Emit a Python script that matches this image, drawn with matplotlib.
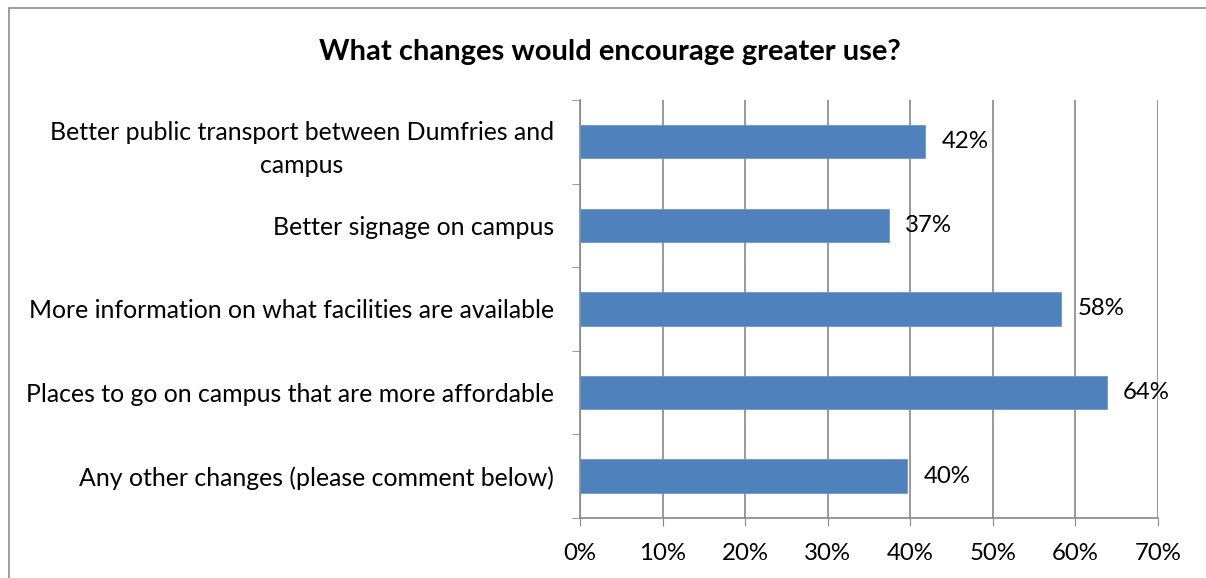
import matplotlib.pyplot as plt
from matplotlib.patches import Rectangle
from matplotlib.ticker import FixedLocator, PercentFormatter

categories = [
    "Better public transport between Dumfries and\ncampus",
    "Better signage on campus",
    "More information on what facilities are available",
    "Places to go on campus that are more affordable",
    "Any other changes (please comment below)",
]
values = [41.8, 37.4, 58.3, 63.8, 39.6]
labels = ["42%", "37%", "58%", "64%", "40%"]

plt.rcParams['font.family'] = ['Lato', 'DejaVu Sans']
fs = 17.3

fig = plt.figure(figsize=(12.06, 5.78), dpi=100)
ax = fig.add_axes([0.481, 0.104, 0.479, 0.723])

pos = list(range(len(categories)))[::-1]
ax.barh(pos, values, height=0.4, color="#4F81BD", edgecolor="#6d97c9", linewidth=0.6, zorder=3)
for p, v, t in zip(pos, values, labels):
    ax.text(v + 2.0, p, t, va="center", ha="left", fontsize=fs)

ax.set_xlim(0, 70)
ax.set_ylim(-0.5, len(categories) - 0.5)
ax.xaxis.set_major_locator(FixedLocator(range(0, 71, 10)))
ax.xaxis.set_major_formatter(PercentFormatter(decimals=0))
ax.set_yticks(pos)
ax.set_yticklabels(categories, fontsize=17.9, linespacing=1.55)
ax.yaxis.set_minor_locator(FixedLocator([i + 0.5 for i in range(-1, len(categories))]))
ax.tick_params(axis="y", which="major", length=0, pad=19)
ax.tick_params(axis="y", which="minor", length=6, color="#888888", direction="out")
ax.tick_params(axis="x", length=6, color="#888888", labelsize=fs, pad=12)
for lbl in ax.get_yticklabels():
    lbl.set_horizontalalignment("right")
    lbl.set_multialignment("center")
ax.grid(axis="x", color="#888888", linewidth=1.2, zorder=0)
for s in ["top", "right"]:
    ax.spines[s].set_visible(False)
for s in ["left", "bottom"]:
    ax.spines[s].set_color("#888888")
    ax.spines[s].set_linewidth(1.2)

fig.text(0.506, 0.91, "What changes would encourage greater use?", ha="center", va="center",
         fontsize=21, fontweight="bold")
fig.patches.append(Rectangle((9 / 1206, -0.1), 1.2, 1 - 8 / 578 + 0.1, transform=fig.transFigure,
                             fill=False, edgecolor="#8c8c8c", linewidth=1.2))

fig.savefig("out.png", dpi=100)
